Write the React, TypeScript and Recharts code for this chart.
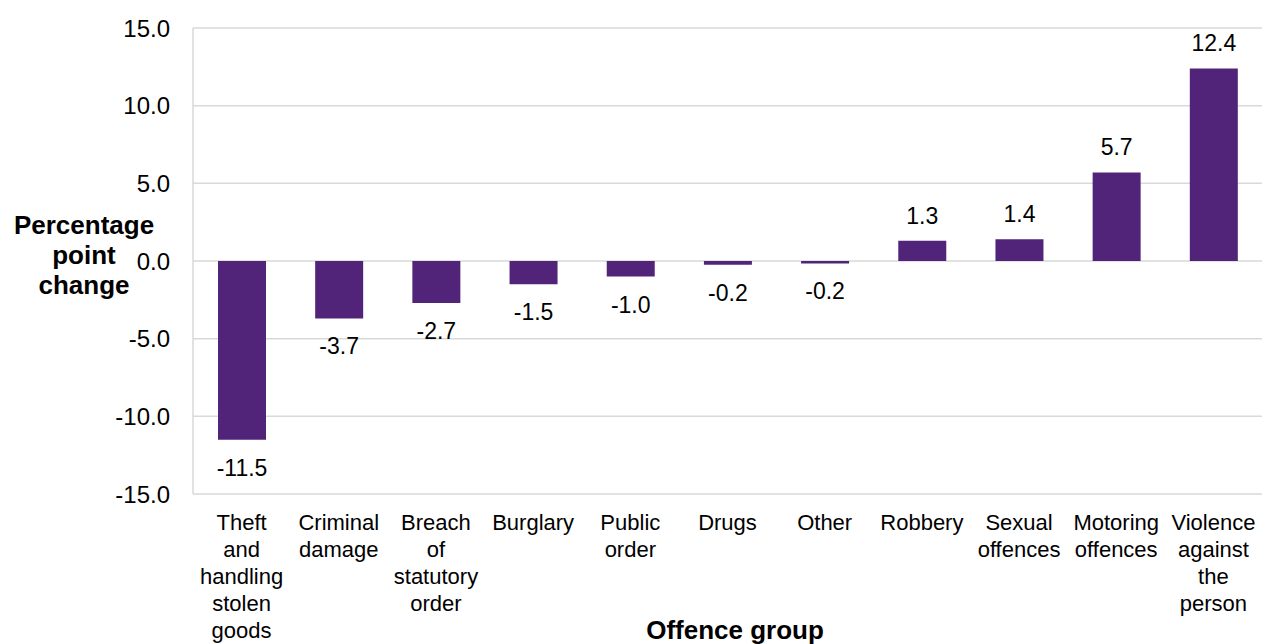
import React from 'react'
import {
  BarChart, Bar, XAxis, YAxis, CartesianGrid, LabelList, Label,
} from 'recharts'

// offence groups, '\n' marks where the label wraps
const CATEGORIES = [
  'Theft\nand\nhandling\nstolen\ngoods',
  'Criminal\ndamage',
  'Breach\nof\nstatutory\norder',
  'Burglary',
  'Public\norder',
  'Drugs',
  'Other',
  'Robbery',
  'Sexual\noffences',
  'Motoring\noffences',
  'Violence\nagainst\nthe\nperson',
]

const CHANGE = [-11.5, -3.7, -2.7, -1.5, -1.0, -0.24, -0.16, 1.3, 1.4, 5.7, 12.4]

const Y_TICKS = [-15, -10, -5, 0, 5, 10, 15]

const FONT = 'Arial, "Liberation Sans", sans-serif'
const PURPLE = '#522479'
const GRID = '#d9d9d9'

const data = CATEGORIES.map((c, i) => ({ name: c, value: CHANGE[i] }))

function CategoryTick({ x, y, payload }: any) {
  const lines = String(payload.value).split('\n')
  return (
    <text x={x} y={y} textAnchor="middle" fontFamily={FONT} fontSize={22} fill="#000">
      {lines.map((l, i) => (
        <tspan key={i} x={x} dy={i === 0 ? 28 : 27}>{l}</tspan>
      ))}
    </text>
  )
}

function ValueLabel({ x, y, width, height, value }: any) {
  const top = Math.min(y, y + height)
  const bottom = Math.max(y, y + height)
  const ty = value >= 0 ? top - 17 : bottom + 36
  return (
    <text x={x + width / 2} y={ty} textAnchor="middle" fontFamily={FONT} fontSize={23} fill="#000">
      {value.toFixed(1)}
    </text>
  )
}

export default function App() {
  return (
    <div style={{ position: 'absolute', left: 0, top: 0, width: 1264, height: 644, background: '#fff' }}>
      <BarChart
        width={1264}
        height={644}
        data={data}
        margin={{ top: 28, right: 2, bottom: 0, left: 0 }}
      >
        <CartesianGrid vertical={false} stroke={GRID} strokeWidth={1.5} />
        <XAxis
          dataKey="name"
          height={150}
          axisLine={false}
          tickLine={false}
          interval={0}
          tick={<CategoryTick />}
        >
          <Label
            content={({ viewBox }: any) => (
              <text
                x={735}
                y={viewBox.y + 145}
                textAnchor="middle"
                fontFamily={FONT}
                fontSize={26}
                fontWeight="bold"
                fill="#000"
              >
                Offence group
              </text>
            )}
          />
        </XAxis>
        <YAxis
          width={193}
          domain={[-15, 15]}
          ticks={Y_TICKS}
          interval={0}
          tickFormatter={v => v.toFixed(1)}
          tick={{ fontSize: 24, fill: '#000', fontFamily: FONT }}
          axisLine={{ stroke: GRID, strokeWidth: 1.5 }}
          tickLine={false}
          tickSize={6}
          tickMargin={17}
        >
          <Label
            content={() => (
              <text textAnchor="middle" fontFamily={FONT} fontSize={26} fontWeight="bold" fill="#000">
                <tspan x={84} y={234}>Percentage</tspan>
                <tspan x={84} y={264}>point</tspan>
                <tspan x={84} y={294}>change</tspan>
              </text>
            )}
          />
        </YAxis>
        <Bar dataKey="value" fill={PURPLE} barSize={48} isAnimationActive={false}>
          <LabelList dataKey="value" content={<ValueLabel />} />
        </Bar>
      </BarChart>
    </div>
  )
}
